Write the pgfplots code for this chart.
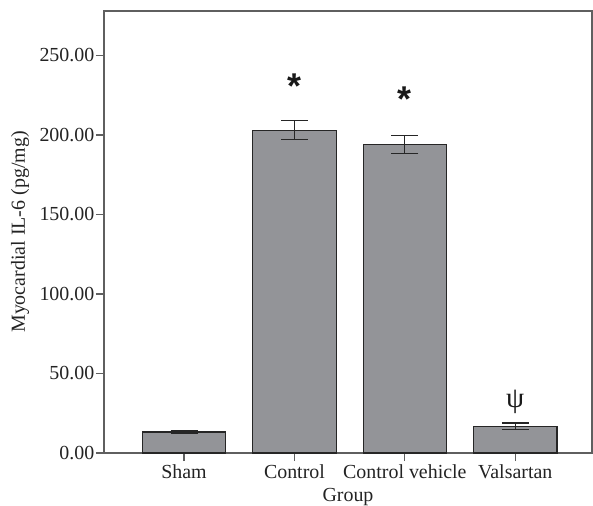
\documentclass[border=0pt]{standalone}
\usepackage{pgfplots}
\pgfplotsset{compat=1.18}
\usepackage{fontspec}
\setmainfont{Liberation Serif}
\newfontfamily\astfont{Liberation Sans}
\definecolor{barfill}{RGB}{147,148,152}
\definecolor{axisgray}{RGB}{95,95,95}
\definecolor{txt}{RGB}{35,35,35}
\begin{document}
\begin{tikzpicture}
\begin{axis}[
  at={(0,0)}, anchor=south west,
  width=488bp, height=442bp, scale only axis,
  xmin=-0.725, xmax=3.695, ymin=0, ymax=278,
  xtick={0,1,2,3},
  xticklabels={Sham,Control,Control vehicle,Valsartan},
  ytick={0,50,100,150,200,250},
  yticklabel style={/pgf/number format/fixed, /pgf/number format/fixed zerofill, /pgf/number format/precision=2, /pgf/number format/assume math mode=true, inner sep=1.5bp},
  tick align=outside, major tick length=8bp,
  xtick pos=bottom, ytick pos=left,
  axis line style={axisgray, line width=1.2bp},
  major tick style={axisgray, line width=1.2bp},
  ticklabel style={font=\fontsize{20}{23}\selectfont, text=txt},
  label style={font=\fontsize{20}{23}\selectfont, text=txt},
  xlabel={Group},
  ylabel={Myocardial IL-6 (pg/mg)},
  xlabel style={at={(axis description cs:0.5,0)}, yshift=-44bp, anchor=center},
  ylabel style={at={(axis description cs:-0.172,0.5)}, anchor=center},
  clip=false,
]
\addplot[ybar, bar width=0.755, fill=barfill, draw=black!85, line width=1.2bp,
  error bars/.cd, y dir=both, y explicit,
  error bar style={black!85, line width=1.2bp},
  error mark options={rotate=90, black!85, line width=1.2bp, mark size=13.5bp}]
  coordinates {
    (0,13.2) +- (0,1.1)
    (1,203.0) +- (0,6.0)
    (2,194.2) +- (0,5.7)
    (3,16.8) +- (0,2.1)
  };
\addplot[draw=none, mark=none, nodes near coords, point meta=explicit symbolic,
  nodes near coords style={font=\astfont\bfseries\fontsize{36}{36}\selectfont, text=black!90, anchor=center}]
  coordinates {(1,231)[*] (2,222.6)[*]};
\addplot[draw=none, mark=none, nodes near coords, point meta=explicit symbolic,
  nodes near coords style={font=\fontsize{29}{29}\selectfont, text=black!90, anchor=center}]
  coordinates {(3,32.1)[ψ]};
\end{axis}
\pgfresetboundingbox
\path[use as bounding box] (-104bp,-53bp) rectangle (489bp,453bp);
\end{tikzpicture}
\end{document}
